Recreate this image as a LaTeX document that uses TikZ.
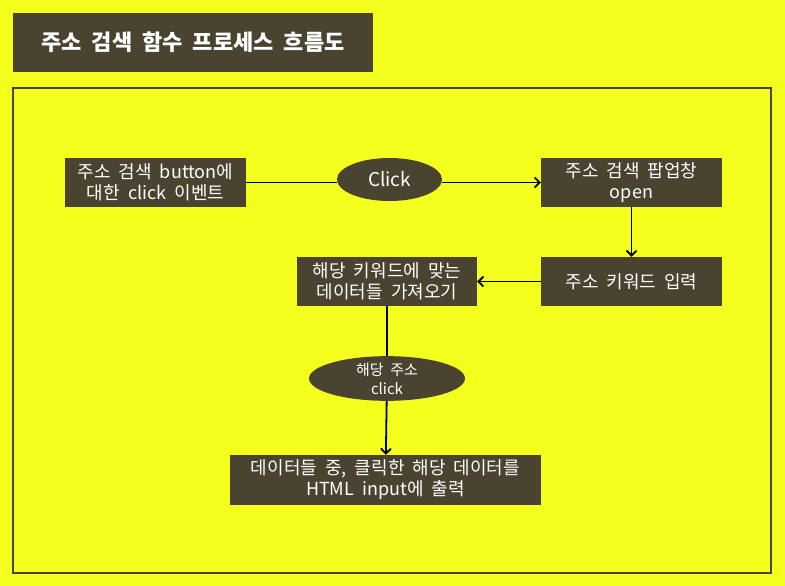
\documentclass[tikz,border=0pt]{standalone}
\usepackage{fontspec}
\setmainfont{Noto Sans CJK KR}[WordSpace=2]
\usepackage{xcolor}
\usetikzlibrary{arrows.meta,shapes.geometric}
\definecolor{bgyellow}{HTML}{F5FF1E}
\definecolor{boxbrown}{HTML}{4A4330}
\tikzset{
  stepbox/.style={fill=boxbrown, text=white, minimum width=181pt, minimum height=49pt,
    align=center, inner sep=1pt, font=\fontsize{18}{21}\selectfont},
  clickoval/.style={ellipse, fill=boxbrown, text=white, align=center, inner sep=0pt},
  flow/.style={line width=1.8pt, black},
  flowarrow/.style={flow, -{Straight Barb[length=5pt,width=10pt]}}
}

\begin{document}
\begin{tikzpicture}[x=1pt,y=-1pt]
                \fill[bgyellow] (0,0) rectangle (785,586);
                \draw[boxbrown, line width=2pt] (13,88) rectangle (771,573);
                \node[fill=boxbrown, text=white, minimum width=360pt, minimum height=59pt,
                      font=\fontsize{22}{26}\selectfont\bfseries] (title) at (193,42.5) {주소 검색 함수 프로세스 흐름도};

                \node[stepbox] (evt) at (155.5,182.5) {주소 검색 button에\\대한 click 이벤트};
                \node[clickoval, minimum width=105pt, minimum height=43pt,
                      font=\fontsize{19}{21}\selectfont] (click) at (389.5,179.5) {Click};
                \node[stepbox] (popup) at (631.5,182.5) {주소 검색 팝업창\\open};
                \node[stepbox] (keyword) at (631.5,281.5) {주소 키워드 입력};
                \node[stepbox, minimum width=180pt] (fetch) at (387,281.5) {해당 키워드에 맞는\\데이터들 가져오기};
                \node[clickoval, minimum width=156pt, minimum height=43pt,
                      font=\fontsize{15}{19}\selectfont] (pick) at (387,378.5) {해당 주소\\click};
                \node[stepbox, minimum width=311pt, minimum height=50pt] (output) at (385.5,480) {데이터들 중, 클릭한 해당 데이터를\\HTML input에 출력};

                \draw[flow] (evt.east) -- (evt.east -| click.west);
                \draw[flowarrow] (popup.west -| click.east) -- (popup.west);
                \draw[flowarrow] (popup) -- (keyword);
                \draw[flowarrow] (keyword) -- (fetch);
                \draw[flow] (fetch) -- (pick);
                \draw[flowarrow] (pick) -- (output);

            \end{tikzpicture}
\end{document}
